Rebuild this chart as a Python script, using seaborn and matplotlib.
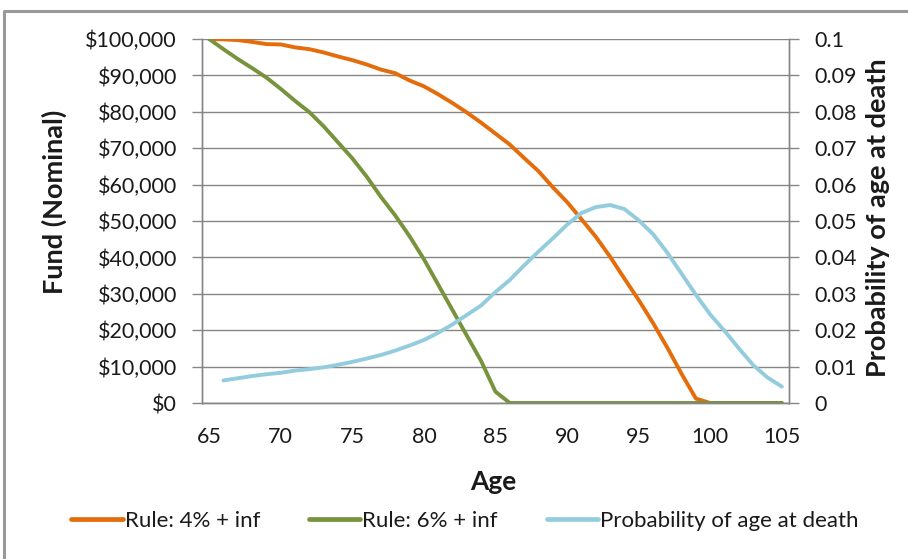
import numpy as np
import pandas as pd
import matplotlib
matplotlib.use("Agg")
import matplotlib.pyplot as plt
from matplotlib.ticker import FixedLocator, StrMethodFormatter, FuncFormatter
from matplotlib.lines import Line2D
import seaborn as sns

# ---------------- data ----------------
ages = list(range(65, 106))

rule_4 = [100000, 99900, 99700, 99200, 98600, 98500, 97700, 97200, 96300, 95200,
          94200, 93000, 91600, 90600, 88600, 87000, 84800, 82400, 79800, 77000,
          74000, 71000, 67300, 63700, 59300, 55200, 50500, 45700, 40200, 34200,
          28300, 22000, 15200, 8000, 1200, 0, 0, 0, 0, 0, 0]

rule_6 = [100000, 97200, 94500, 92000, 89400, 86300, 83000, 79900, 76000, 71600,
          67200, 62200, 56600, 51500, 45800, 39500, 32500, 25500, 18500, 11500,
          3100, 0, 0, 0, 0, 0, 0, 0, 0, 0,
          0, 0, 0, 0, 0, 0, 0, 0, 0, 0, 0]

prob_death = [np.nan, 0.0062, 0.0068, 0.0074, 0.0079, 0.0083, 0.0089, 0.0093, 0.0098, 0.0105,
              0.0113, 0.0122, 0.0132, 0.0144, 0.0158, 0.0173, 0.0193, 0.0216, 0.0242, 0.0268,
              0.0305, 0.0338, 0.0378, 0.0416, 0.0452, 0.0490, 0.0522, 0.0538, 0.0544, 0.0533,
              0.0502, 0.0464, 0.0413, 0.0355, 0.0297, 0.0243, 0.0198, 0.0150, 0.0104, 0.0070,
              0.0045]

x_tick_labels = [str(a) for a in range(65, 106, 5)]
series_names = ["Rule: 4% + inf", "Rule: 6% + inf", "Probability of age at death"]

# ---------------- style ----------------
sns.set_style("white")
plt.rcParams['font.family'] = ['Lato', 'DejaVu Sans']
plt.rcParams['font.size'] = 15

C_ORANGE = "#E46C0A"
C_GREEN = "#77933C"
C_BLUE = "#93CDDD"
C_GRID = "#868686"
TXT = "#1a1a1a"

W, H = 908, 559
fig = plt.figure(figsize=(W / 100, H / 100), dpi=100)
ax = fig.add_axes([202 / W, 1 - 403 / H, 587 / W, 364 / H])
ax2 = ax.twinx()
ax2.set_position([202 / W, 1 - 403 / H, 587 / W, 364 / H])

df = pd.DataFrame({"age": ages, "r4": rule_4, "r6": rule_6, "p": prob_death})

sns.lineplot(data=df, x="age", y="r4", ax=ax, color=C_ORANGE, lw=2.8,
             label=series_names[0], legend=False)
sns.lineplot(data=df, x="age", y="r6", ax=ax, color=C_GREEN, lw=2.8,
             label=series_names[1], legend=False)
sns.lineplot(data=df.dropna(), x="age", y="p", ax=ax2, color=C_BLUE, lw=2.8,
             label=series_names[2], legend=False)

# axes limits
ax.set_xlim(64.5, 105.5)
ax.set_ylim(0, 100000)
ax2.set_ylim(0, 0.1)

# grid
ax.set_yticks(np.arange(0, 100001, 10000))
ax.yaxis.set_major_formatter(StrMethodFormatter("${x:,.0f}"))
ax.grid(axis="y", color=C_GRID, lw=1.0)
ax.set_axisbelow(True)
ax2.set_yticks(np.round(np.arange(0, 0.1001, 0.01), 2))
ax2.yaxis.set_major_formatter(FuncFormatter(lambda v, p: f"{v:g}"))

# x ticks: labels at categories, tick marks between categories
ax.set_xticks(range(65, 106, 5))
ax.set_xticklabels(x_tick_labels)
ax.xaxis.set_minor_locator(FixedLocator(np.arange(64.5, 105, 5)))
ax.tick_params(axis="x", which="major", length=0, pad=17, labelsize=15.5, labelcolor=TXT)
ax.tick_params(axis="x", which="minor", length=7, width=1, color=C_GRID, direction="out")
ax.tick_params(axis="y", length=7, width=1, color=C_GRID, direction="out", pad=11,
               labelsize=15.5, labelcolor=TXT)
ax2.tick_params(axis="y", length=7, width=1, color=C_GRID, direction="out", pad=11,
                labelsize=15.5, labelcolor=TXT)
ax2.tick_params(axis="x", length=0)

for a in (ax, ax2):
    for s in ("left", "right", "bottom"):
        a.spines[s].set_color(C_GRID)
        a.spines[s].set_linewidth(1.0)
    a.spines["top"].set_visible(False)

ax.set_xlabel("")
ax.set_ylabel("")
ax2.set_ylabel("")
fig.text(54 / W, 1 - 202 / H, "Fund (Nominal)", rotation=90, ha="center", va="center",
         fontsize=19.5, fontweight="bold", color=TXT)
fig.text(878 / W, 1 - 218 / H, "Probability of age at death", rotation=90, ha="center",
         va="center", fontsize=19.5, fontweight="bold", color=TXT)
fig.text(493 / W, 1 - 482 / H, "Age", ha="center", va="center",
         fontsize=19, fontweight="bold", color=TXT)

# legend
h1, l1 = ax.get_legend_handles_labels()
h2, l2 = ax2.get_legend_handles_labels()
handles = [Line2D([], [], color=h.get_color(), lw=3.4) for h in h1 + h2]
fig.legend(handles, l1 + l2, loc="center", bbox_to_anchor=(465 / W, 1 - 521 / H),
           ncol=3, frameon=False, fontsize=16, handlelength=2.3, handletextpad=0.1,
           columnspacing=2.2, labelcolor=TXT)

# outer frame (partial border of the original chart area)
fig.add_artist(Line2D([4 / W, 4 / W, 1], [0, 1 - 11 / H, 1 - 11 / H],
                      transform=fig.transFigure, color="#999999", lw=2.2))

fig.savefig("out.png", dpi=100)
